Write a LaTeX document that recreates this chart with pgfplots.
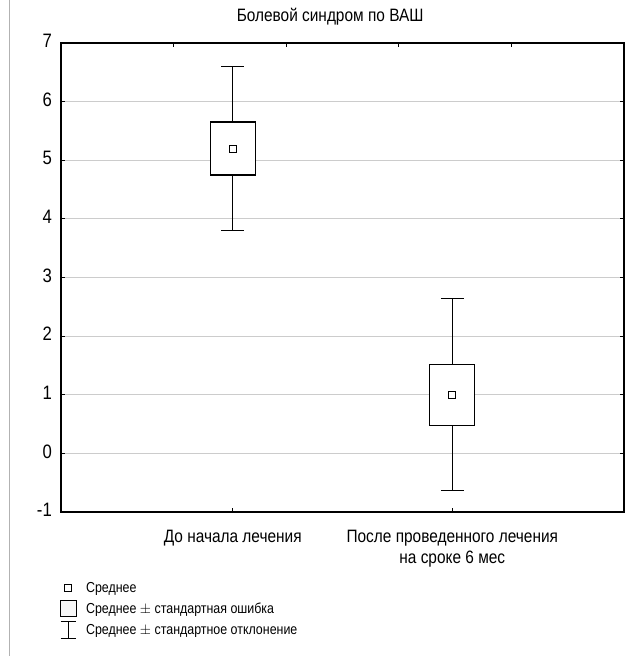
\documentclass[border=0pt]{standalone}
\usepackage{fontspec}
\setmainfont{Liberation Sans}[FakeStretch=0.86]
\usepackage{pgfplots}
\pgfplotsset{compat=1.18}
\usepgfplotslibrary{statistics}
\begin{document}
\begin{tikzpicture}
\fill[white] (0,0) rectangle (639bp,656bp);
\path[use as bounding box] (0,0) rectangle (639bp,656bp);
\draw[black!30, line width=1bp] (9bp,0) -- (9bp,656bp);
% top ticks (decorative, fifths of width)
\begin{axis}[
  at={(61bp,144bp)}, anchor=south west,
  width=563bp, height=469bp, scale only axis,
  xmin=0, xmax=5, ymin=-1, ymax=7,
  axis x line*=top, axis y line=none,
  xtick={1,2,3,4}, xticklabels={},
  tick align=inside, major tick length=4bp,
  tick style={black, line width=1bp},
  axis line style={draw=none},
]
\addplot[draw=none] coordinates {(0,0)};
\end{axis}
\begin{axis}[
  at={(61bp,144bp)}, anchor=south west,
  width=563bp, height=469bp, scale only axis,
  xmin=0.218, xmax=2.782, ymin=-1, ymax=7,
  ytick={0,1,...,6},
  extra y ticks={-1,7},
  extra y tick style={grid=none},
  xtick={1,2},
  xticklabels={До начала лечения, {После проведенного лечения\\на сроке 6 мес}},
  xticklabel style={align=center, font=\fontsize{18}{21}\selectfont, anchor=north, inner sep=0pt, yshift=-18bp},
  yticklabel style={font=\fontsize{19.5}{21}\selectfont, anchor=east, inner sep=0pt, xshift=-9bp, yshift=2bp},
  xtick pos=lower, ytick pos=both,
  tick align=inside,
  major tick length=4bp,
  tick style={black, line width=1bp},
  axis line style={black, line width=1.5bp},
  ymajorgrids, grid style={black!20, line width=1.2bp},
  /pgf/number format/assume math mode=true,
  title={Болевой синдром по ВАШ},
  title style={font=\fontsize{18}{20}\selectfont, at={(0.478,1)}, anchor=base, yshift=16bp},
  boxplot/draw direction=y,
  boxplot/box extend=0.205,
  boxplot/whisker extend=0.105,
  boxplot/draw/median/.code={},
  boxplot/every box/.style={fill=white},
  legend style={at={(-0.002,-0.139)}, anchor=north west, draw=none, fill=none,
    inner sep=0pt, row sep=0pt, column sep=9bp,
    font=\fontsize{14.5}{17}\selectfont,
    nodes={inner sep=0pt}},
  legend cell align=left,
]
\addplot[forget plot, black, line width=1.3bp, solid,
  boxplot prepared={draw position=1, lower whisker=3.80, lower quartile=4.75,
    median=5.19, upper quartile=5.65, upper whisker=6.60}] coordinates {};
\addplot[forget plot, black, line width=1.3bp, solid,
  boxplot prepared={draw position=2, lower whisker=-0.63, lower quartile=0.48,
    median=1.00, upper quartile=1.52, upper whisker=2.64}] coordinates {};
\addplot[forget plot, only marks, mark=square*, mark size=3.5bp,
  mark options={fill=white, draw=black, line width=1bp}]
  coordinates {(1,5.19) (2,1.00)};
\addlegendimage{legend image code/.code={
  \path[draw=none, fill=none] (0,-10.5bp) rectangle (17bp,10.5bp);
  \draw[black, fill=white, line width=1bp] (4.5bp,-3.5bp) rectangle (11.5bp,3.5bp);}}
\addlegendentry{Среднее}
\addlegendimage{legend image code/.code={
  \path[draw=none, fill=none] (0,-10.5bp) rectangle (17bp,10.5bp);
  \draw[black, fill=black!3, line width=1bp] (0.5bp,-8bp) rectangle (16.5bp,8bp);}}
\addlegendentry{Среднее $\pm$ стандартная ошибка}
\addlegendimage{legend image code/.code={
  \path[draw=none, fill=none] (0,-10.5bp) rectangle (17bp,10.5bp);
  \draw[black, line width=1bp] (0.5bp,8.5bp) -- (16bp,8.5bp)
    (8.25bp,8.5bp) -- (8.25bp,-8.5bp) (0.5bp,-8.5bp) -- (16bp,-8.5bp);}}
\addlegendentry{Среднее $\pm$ стандартное отклонение}
\end{axis}
\end{tikzpicture}
\end{document}
